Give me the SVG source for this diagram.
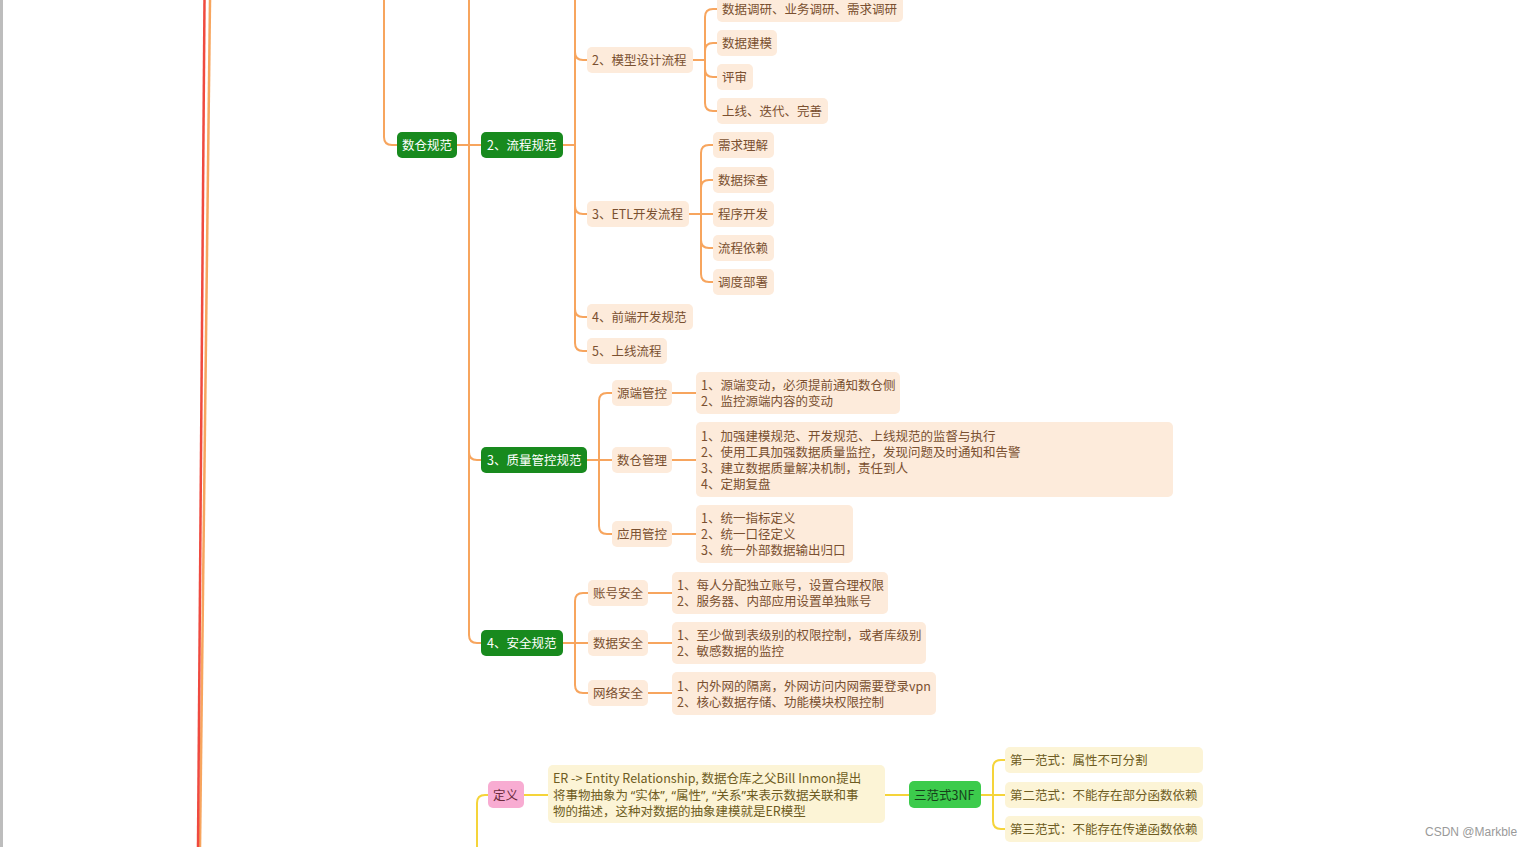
<svg xmlns="http://www.w3.org/2000/svg" width="1534" height="847" viewBox="0 0 1534 847">
<style>
text{font-family:"Noto Sans CJK SC","Noto Sans",sans-serif;font-size:12.5px;dominant-baseline:central}
.g rect{fill:#188a1e}
.g text{fill:#ffffff}
.p rect{fill:#fdebdb}
.p text{fill:#7a5030}
.y rect{fill:#fcf4d6}
.y text{fill:#6e5c22}
.q{font-family:"Noto Sans",sans-serif}
.co path{fill:none;stroke:#f7a55e;stroke-width:2;stroke-linecap:round}
.cy path{fill:none;stroke:#f5d43a;stroke-width:2;stroke-linecap:round}
</style>
<rect x="0" y="0" width="1534" height="847" fill="#ffffff"/>
<rect x="0" y="0" width="3" height="847" fill="#bdbdbd"/>

<g id="connectors">
 <path d="M210,0 Q205.5,420 200,847" fill="none" stroke="#f7a55e" stroke-width="2.5"/>
 <path d="M204.5,0 Q201.5,420 198,847" fill="none" stroke="#ef4a3f" stroke-width="2.5"/>
 <g class="co">
  <path d="M384,0 V137 Q384,145 392,145 H397"/>
  <path d="M457,145 H481"/>
  <path d="M469,0 V635 Q469,643 477,643 H481"/>
  <path d="M469,452 Q469,460 477,460 H481"/>
  <path d="M562,145 H575"/>
  <path d="M575,0 V343 Q575,351 583,351 H587"/>
  <path d="M575,52 Q575,60 583,60 H587"/>
  <path d="M575,206 Q575,214 583,214 H587"/>
  <path d="M575,309 Q575,317 583,317 H587"/>
  <path d="M693,60 H705"/>
  <path d="M705,60 V17 Q705,9 713,9 H717"/>
  <path d="M705,60 V51 Q705,43 713,43 H717"/>
  <path d="M705,60 V69 Q705,77 713,77 H717"/>
  <path d="M705,60 V103 Q705,111 713,111 H717"/>
  <path d="M689,214 H713"/>
  <path d="M701,214 V153 Q701,145 709,145 H713"/>
  <path d="M701,214 V188 Q701,180 709,180 H713"/>
  <path d="M701,214 V240 Q701,248 709,248 H713"/>
  <path d="M701,214 V274 Q701,282 709,282 H713"/>
  <path d="M587,460 H612"/>
  <path d="M599,460 V401 Q599,393 607,393 H612"/>
  <path d="M599,460 V526 Q599,534 607,534 H612"/>
  <path d="M672,393 H696"/>
  <path d="M672,460 H696"/>
  <path d="M672,534 H696"/>
  <path d="M563,643 H588"/>
  <path d="M575,643 V601 Q575,593 583,593 H588"/>
  <path d="M575,643 V685 Q575,693 583,693 H588"/>
  <path d="M648,593 H672"/>
  <path d="M648,643 H672"/>
  <path d="M648,693 H672"/>
 </g>
 <g class="cy">
  <path d="M477,847 V803 Q477,795 485,795 H488"/>
  <path d="M524,795 H548"/>
  <path d="M885,795 H909"/>
  <path d="M981,795 H1005"/>
  <path d="M993,795 V768 Q993,760 1001,760 H1005"/>
  <path d="M993,795 V821 Q993,829 1001,829 H1005"/>
 </g>
</g>

<g id="n-shucang" class="g"><rect x="397" y="132" width="60" height="26" rx="5"/><text x="402" y="144.5">数仓规范</text></g>
<g id="n-liucheng" class="g"><rect x="481" y="132" width="82" height="26" rx="5"/><text x="487" y="144.5">2、流程规范</text></g>
<g id="n-zhiliang" class="g"><rect x="481" y="447" width="106" height="26" rx="5"/><text x="487" y="459.5">3、质量管控规范</text></g>
<g id="n-anquan" class="g"><rect x="481" y="630" width="82" height="26" rx="5"/><text x="487" y="642.5">4、安全规范</text></g>

<g id="n-moxing" class="p"><rect x="587" y="47" width="106" height="26" rx="5"/><text x="592" y="59.5">2、模型设计流程</text></g>
<g id="n-etl" class="p"><rect x="587" y="201" width="102" height="26" rx="5"/><text x="592" y="213.5">3、ETL开发流程</text></g>
<g id="n-qianduan" class="p"><rect x="587" y="304" width="106" height="26" rx="5"/><text x="592" y="316.5">4、前端开发规范</text></g>
<g id="n-shangxian" class="p"><rect x="587" y="338" width="80" height="26" rx="5"/><text x="592" y="350.5">5、上线流程</text></g>

<g id="n-m1" class="p"><rect x="717" y="-4" width="186" height="26" rx="5"/><text x="722" y="8.5">数据调研、业务调研、需求调研</text></g>
<g id="n-m2" class="p"><rect x="717" y="30" width="60" height="26" rx="5"/><text x="722" y="42.5">数据建模</text></g>
<g id="n-m3" class="p"><rect x="717" y="64" width="36" height="26" rx="5"/><text x="722" y="76.5">评审</text></g>
<g id="n-m4" class="p"><rect x="717" y="98" width="111" height="26" rx="5"/><text x="722" y="110.5">上线、迭代、完善</text></g>

<g id="n-e1" class="p"><rect x="713" y="132" width="61" height="26" rx="5"/><text x="718" y="144.5">需求理解</text></g>
<g id="n-e2" class="p"><rect x="713" y="167" width="61" height="26" rx="5"/><text x="718" y="179.5">数据探查</text></g>
<g id="n-e3" class="p"><rect x="713" y="201" width="61" height="26" rx="5"/><text x="718" y="213.5">程序开发</text></g>
<g id="n-e4" class="p"><rect x="713" y="235" width="61" height="26" rx="5"/><text x="718" y="247.5">流程依赖</text></g>
<g id="n-e5" class="p"><rect x="713" y="269" width="61" height="26" rx="5"/><text x="718" y="281.5">调度部署</text></g>

<g id="n-yuanduan" class="p"><rect x="612" y="380" width="60" height="26" rx="5"/><text x="617" y="392.5">源端管控</text></g>
<g id="n-shucangguanli" class="p"><rect x="612" y="447" width="60" height="26" rx="5"/><text x="617" y="459.5">数仓管理</text></g>
<g id="n-yingyong" class="p"><rect x="612" y="521" width="60" height="26" rx="5"/><text x="617" y="533.5">应用管控</text></g>

<g id="d-yuanduan" class="p"><rect x="696" y="372" width="204" height="42" rx="5"/><text x="701" y="384.5">1、源端变动，必须提前通知数仓侧</text><text x="701" y="400.5">2、监控源端内容的变动</text></g>
<g id="d-shucang" class="p"><rect x="696" y="422" width="477" height="75" rx="5"/><text x="701" y="435.5">1、加强建模规范、开发规范、上线规范的监督与执行</text><text x="701" y="451.5">2、使用工具加强数据质量监控，发现问题及时通知和告警</text><text x="701" y="467.5">3、建立数据质量解决机制，责任到人</text><text x="701" y="483.5">4、定期复盘</text></g>
<g id="d-yingyong" class="p"><rect x="696" y="505" width="157" height="58" rx="5"/><text x="701" y="517.5">1、统一指标定义</text><text x="701" y="533.5">2、统一口径定义</text><text x="701" y="549.5">3、统一外部数据输出归口</text></g>

<g id="n-zhanghao" class="p"><rect x="588" y="580" width="60" height="26" rx="5"/><text x="593" y="592.5">账号安全</text></g>
<g id="n-shuju" class="p"><rect x="588" y="630" width="60" height="26" rx="5"/><text x="593" y="642.5">数据安全</text></g>
<g id="n-wangluo" class="p"><rect x="588" y="680" width="60" height="26" rx="5"/><text x="593" y="692.5">网络安全</text></g>

<g id="d-zhanghao" class="p"><rect x="672" y="572" width="216" height="42" rx="5"/><text x="677" y="584.5">1、每人分配独立账号，设置合理权限</text><text x="677" y="600.5">2、服务器、内部应用设置单独账号</text></g>
<g id="d-shuju" class="p"><rect x="672" y="622" width="254" height="42" rx="5"/><text x="677" y="634.5">1、至少做到表级别的权限控制，或者库级别</text><text x="677" y="650.5">2、敏感数据的监控</text></g>
<g id="d-wangluo" class="p"><rect x="672" y="672" width="264" height="43" rx="5"/><text x="677" y="685.5">1、内外网的隔离，外网访问内网需要登录vpn</text><text x="677" y="701.5">2、核心数据存储、功能模块权限控制</text></g>

<g id="n-dingyi"><rect x="488" y="781" width="36" height="27" rx="5" fill="#f8acd2"/><text x="493" y="794.5" fill="#6a2a3a">定义</text></g>
<g id="d-er" class="y"><rect x="548" y="765" width="337" height="58" rx="5"/><text x="553" y="777.5">ER -&gt; Entity Relationship, 数据仓库之父Bill Inmon提出</text><text x="553" y="794.5">将事物抽象为 <tspan class="q">“</tspan>实体<tspan class="q">”, “</tspan>属性<tspan class="q">”, “</tspan>关系<tspan class="q">”</tspan>来表示数据关联和事</text><text x="553" y="810.5">物的描述，这种对数据的抽象建模就是ER模型</text></g>
<g id="n-3nf"><rect x="909" y="781" width="72" height="27" rx="5" fill="#3ccb4c"/><text x="914" y="794.5" fill="#16401a">三范式3NF</text></g>
<g id="n-nf1" class="y"><rect x="1005" y="747" width="198" height="26" rx="5"/><text x="1010" y="759.5">第一范式：属性不可分割</text></g>
<g id="n-nf2" class="y"><rect x="1005" y="782" width="198" height="26" rx="5"/><text x="1010" y="794.5">第二范式：不能存在部分函数依赖</text></g>
<g id="n-nf3" class="y"><rect x="1005" y="816" width="198" height="26" rx="5"/><text x="1010" y="828.5">第三范式：不能存在传递函数依赖</text></g>

<text x="1425" y="832" style="font-family:'Liberation Sans',Arial,sans-serif;font-size:12px;fill:#9a9a9a">CSDN @Markble</text>
</svg>
